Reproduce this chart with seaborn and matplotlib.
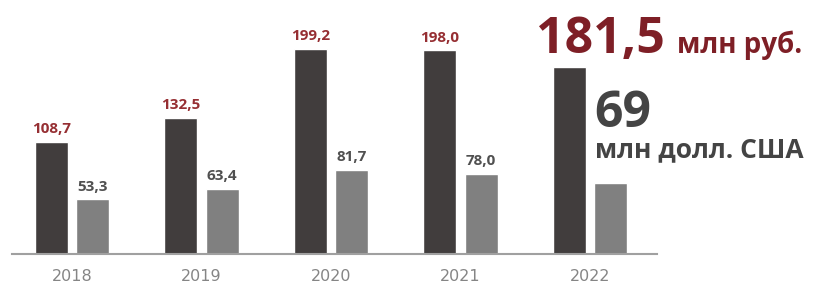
import pandas as pd
import matplotlib.pyplot as plt
import seaborn as sns

# Values (млн руб. / млн долл. США)
years = ["2018", "2019", "2020", "2021", "2022"]
rub = [108.7, 132.5, 199.2, 198.0, 181.5]
usd = [53.3, 63.4, 81.7, 78.0, 69.0]

df = pd.DataFrame({
    "year": years * 2,
    "value": rub + usd,
    "currency": ["rub"] * len(years) + ["usd"] * len(years),
})

sns.set_style("white")
plt.rcParams["font.family"] = ["Open Sans", "DejaVu Sans"]

W, H = 837, 289
fig = plt.figure(figsize=(W / 100, H / 100), dpi=100)
ax = fig.add_axes([12 / W, 35 / H, 645 / W, 254 / H])

sns.barplot(data=df, x="year", y="value", hue="currency", hue_order=["rub", "usd"],
            palette={"rub": "#413d3d", "usd": "#808080"}, saturation=1,
            width=0.64, gap=0.2, legend=False, ax=ax)

ax.set_xlim(-0.463, 4.517)
ax.set_ylim(0, 246.6)
ax.set_xlabel("")
ax.set_ylabel("")
ax.set_yticks([])
sns.despine(ax=ax, left=True)
ax.spines["bottom"].set_color("#a0a0a0")
ax.spines["bottom"].set_linewidth(1.5)
ax.tick_params(axis="x", length=0, pad=11, labelsize=11.5, labelcolor="#858585")
for t in ax.get_xticklabels():
    t.set_fontfamily(["DejaVu Sans"])

fmt = lambda v: f"{v:.1f}".replace(".", ",")
# labels for every year except the highlighted last one
ax.bar_label(ax.containers[0], labels=[fmt(v) for v in rub[:-1]] + [""],
             padding=4, fontsize=11, fontweight="bold", color="#962f33")
ax.bar_label(ax.containers[1], labels=[fmt(v) for v in usd[:-1]] + [""],
             padding=4, fontsize=11, fontweight="bold", color="#505050")

# highlighted 2022 values
fig.text(536 / W, 1 - 53 / H, fmt(rub[-1]), fontsize=36, fontweight="bold",
         color="#7e1f26", va="baseline")
fig.text(677 / W, 1 - 53 / H, "млн руб.", fontsize=20, fontweight="bold",
         color="#7e1f26", va="baseline")
fig.text(594 / W, 1 - 127 / H, f"{usd[-1]:.0f}", fontsize=36, fontweight="bold",
         color="#444444", va="baseline")
fig.text(595 / W, 1 - 157 / H, "млн долл. США", fontsize=19, fontweight="bold",
         color="#444444", va="baseline")

fig.savefig("out.png", dpi=100)
